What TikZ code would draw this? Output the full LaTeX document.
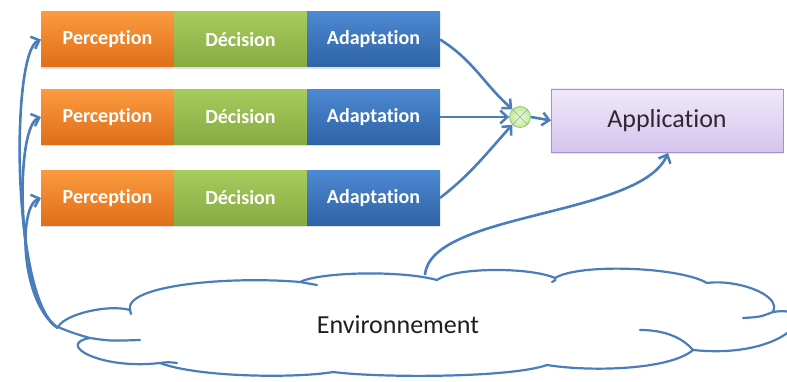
\documentclass[tikz,border=0pt]{standalone}
\usepackage{fontspec}
\setmainfont{Carlito}[Ligatures={NoCommon}]
\usetikzlibrary{arrows.meta,shadows,positioning}

\definecolor{linkblue}{HTML}{4A7EBB}
\definecolor{orangeTop}{HTML}{FB9A3E}
\definecolor{orangeBot}{HTML}{DF6E1A}
\definecolor{greenTop}{HTML}{A8CB5E}
\definecolor{greenBot}{HTML}{86AB40}
\definecolor{blueTop}{HTML}{4D88D2}
\definecolor{blueBot}{HTML}{2E63A6}
\definecolor{appTop}{HTML}{F0E9FA}
\definecolor{appBot}{HTML}{D5C4EE}
\definecolor{appEdge}{HTML}{A690CC}

\tikzset{
  stage/.style={minimum width=133pt, minimum height=55pt, inner sep=0pt, outer sep=0pt,
    text=white, font=\fontsize{20}{23}\selectfont\bfseries,
    drop shadow={shadow xshift=0pt, shadow yshift=-2pt, opacity=0.25}},
  percep/.style={stage, top color=orangeTop, bottom color=orangeBot},
  decis/.style={stage, top color=greenTop, bottom color=greenBot},
  adapt/.style={stage, top color=blueTop, bottom color=blueBot},
  link/.style={draw=linkblue, line width=2.6pt, -{Straight Barb[length=7pt,width=13pt,line width=2.5pt]}},
  cloudline/.style={draw=linkblue, line width=2.2pt, line cap=round, line join=round},
}

\begin{document}
\begin{tikzpicture}[x=1pt,y=1pt]
\useasboundingbox (0,0) rectangle (787,382);

% three processing chains
\node[percep] (p1) at (107.5,342.5) {Perception};
\node[decis, right=0pt of p1] (d1) {Décision};
\node[adapt, right=0pt of d1] (a1) {Adaptation};

\node[percep] (p2) at (107.5,265) {Perception};
\node[decis, right=0pt of p2] (d2) {Décision};
\node[adapt, right=0pt of d2] (a2) {Adaptation};

\node[percep] (p3) at (107.5,184) {Perception};
\node[decis, right=0pt of p3] (d3) {Décision};
\node[adapt, right=0pt of d3] (a3) {Adaptation};

% combination operator
\node[circle, minimum size=21pt, inner sep=0pt, draw=green!40!gray!70, line width=0.8pt,
      inner color=green!12!white, outer color={rgb,255:red,200;green,232;blue,150}] (mix) at (520,265) {};
\draw[gray!70, line width=0.6pt] (mix.north west) -- (mix.south east)
                                 (mix.north east) -- (mix.south west);

% application
\node[minimum width=232pt, minimum height=63pt, inner sep=0pt, outer sep=0pt,
      top color=appTop, bottom color=appBot, draw=appEdge, line width=0.6pt,
      text={rgb,255:red,45;green,40;blue,50}, font=\fontsize{26}{30}\selectfont,
      drop shadow={shadow xshift=0pt, shadow yshift=-2pt, opacity=0.2}]
      (app) at (667,261.5) {Application};

% environment cloud
\coordinate (L0) at (58,55);
\coordinate (c1) at (130,72);
\coordinate (c2) at (300,100);
\coordinate (c3) at (437,102);
\coordinate (c4) at (555,104);
\coordinate (c5) at (707,99);
\coordinate (c6) at (773,70);
\coordinate (c7) at (693,32);
\coordinate (c8) at (547,17);
\coordinate (c9) at (333,10);
\coordinate (c10) at (160,19);
\coordinate (c11) at (90,44);
\path[cloudline, fill=white]
  (L0) .. controls (65,68) and (108,78) .. (c1)
       .. controls (124,97) and (230,106) .. (c2)
       .. controls (320,110) and (400,112) .. (c3)
       .. controls (455,115) and (530,115) .. (c4)
       .. controls (580,119) and (680,115) .. (c5)
       .. controls (735,103) and (782,88) .. (c6)
       .. controls (825,78) and (790,22) .. (c7)
       .. controls (670,12) and (590,10) .. (c8)
       .. controls (510,4) and (380,4) .. (c9)
       .. controls (300,4) and (200,4) .. (c10)
       .. controls (100,12) and (55,38) .. (c11)
       .. controls (75,48) and (65,52) .. (L0) -- cycle;
% inner folds of the cloud
\draw[cloudline] (c11) .. controls (110,41) .. (140,42);
\draw[cloudline] (c1) .. controls (131,70) .. (131,68);
\draw[cloudline] (c2) .. controls (308,99) .. (317,97);
\draw[cloudline] (c6) .. controls (760,65) .. (743,64);
\draw[cloudline] (c7) .. controls (680,47) and (660,52) .. (640,52);
\draw[cloudline] (c10) .. controls (168,20) .. (177,19);
\draw[cloudline] (c4) .. controls (556,102) .. (552,100);
\node[font=\fontsize{26}{30}\selectfont, text={rgb,255:red,30;green,30;blue,30}] (env) at (398,57) {Environnement};

% feedback from the environment to each perception stage
\coordinate (envL) at (58,54);
\draw[link] (envL) .. controls (12,80) and (10,330) .. (p1.west);
\draw[link] (envL) .. controls (16,80) and (14,255) .. (p2.west);
\draw[link] (envL) .. controls (20,80) and (18,176) .. (p3.west);

% chains into the operator
\draw[link] (a1.east) to[out=-32,in=138] (mix.north west);
\draw[link] (a2.east) -- (mix.west);
\draw[link] (a3.east) to[out=38,in=-132] (mix.south west);
\draw[link] (mix.east) -- (app.west);

% environment to application
\coordinate (envT) at (425,107);
\draw[link] (envT) .. controls (430,170) and (640,165) .. (668,229);
\end{tikzpicture}
\end{document}
